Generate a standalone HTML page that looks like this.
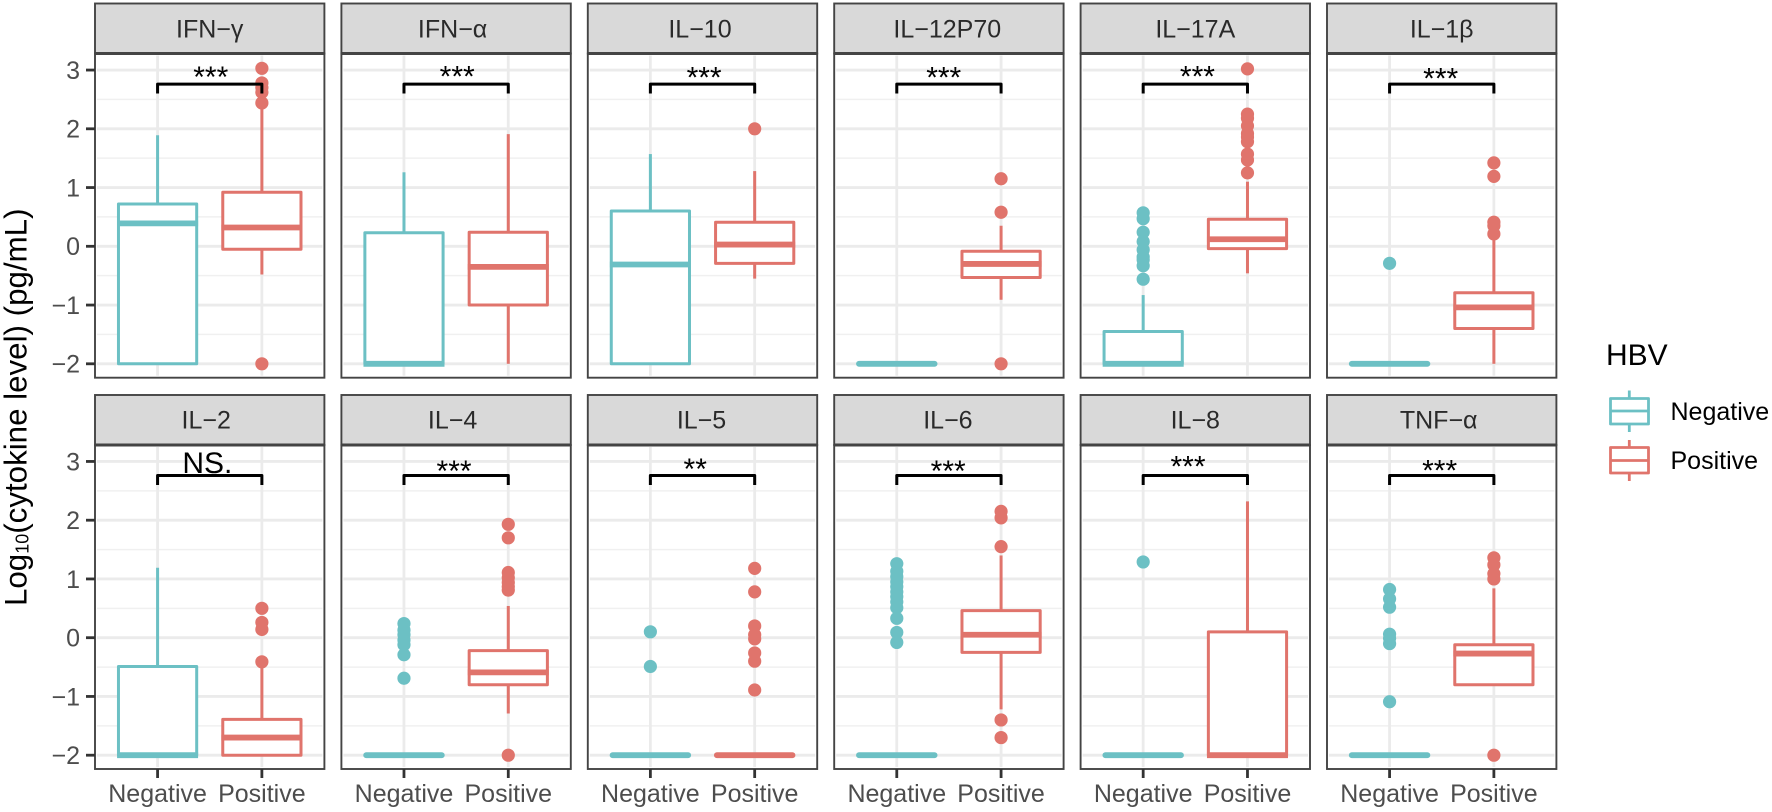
<!DOCTYPE html>
<html lang="en">
<head>
<meta charset="utf-8">
<title>Cytokine levels by HBV status</title>
<style>
html,body{margin:0;padding:0;background:#fff;width:1772px;height:812px;overflow:hidden}
svg{display:block}
text{font-family:"Liberation Sans",sans-serif}
</style>
</head>
<body>
<svg id="chart" xmlns="http://www.w3.org/2000/svg" width="1772" height="812" viewBox="0 0 1772 812">
<rect x="0" y="0" width="1772" height="812" fill="#ffffff"/>
<text transform="translate(26.5,606) rotate(-90)" font-size="31.3" fill="#000">Log<tspan font-size="18" dy="2">10</tspan><tspan dy="-2">(cytokine level) (pg/mL)</tspan></text>
<g>
<text x="1606" y="365" font-size="30" fill="#000">HBV</text>
<g fill="none" stroke="#6cc0c4" stroke-width="2.8" stroke-linejoin="round">
<line x1="1629.3" x2="1629.3" y1="390.5" y2="398.5"/>
<line x1="1629.3" x2="1629.3" y1="424" y2="432"/>
<rect x="1610.5" y="398.5" width="38" height="25.5"/>
<line x1="1610.5" x2="1648.5" y1="411" y2="411"/>
</g>
<text x="1670.5" y="420" font-size="25" fill="#000">Negative</text>
<g fill="none" stroke="#e0746c" stroke-width="2.8" stroke-linejoin="round">
<line x1="1629.3" x2="1629.3" y1="440" y2="447.5"/>
<line x1="1629.3" x2="1629.3" y1="473" y2="481"/>
<rect x="1610.5" y="447.5" width="38" height="25.5"/>
<line x1="1610.5" x2="1648.5" y1="460.5" y2="460.5"/>
</g>
<text x="1670.5" y="469" font-size="25" fill="#000">Positive</text>
</g>
</svg>
<script>
const panelNames = ["IFN−γ","IFN−α","IL−10","IL−12P70","IL−17A","IL−1β","IL−2","IL−4","IL−5","IL−6","IL−8","TNF−α"];
const categories = ["Negative","Positive"];
const yTickValues = [-2,-1,0,1,2,3];
const yTickLabels = ["−2","−1","0","1","2","3"];

const negWhiskerHigh = [1.89,1.26,1.57,-2,-0.83,-2,1.19,-2,-2,-2,-2,-2];
const negQ3          = [0.72,0.23,0.60,-2,-1.45,-2,-0.49,-2,-2,-2,-2,-2];
const negMedian      = [0.39,-2,-0.31,-2,-2,-2,-2,-2,-2,-2,-2,-2];
const negQ1          = [-2,-2,-2,-2,-2,-2,-2,-2,-2,-2,-2,-2];
const negWhiskerLow  = [-2,-2,-2,-2,-2,-2,-2,-2,-2,-2,-2,-2];
const negOutliers = [
  [],
  [],
  [],
  [],
  [0.57,0.47,0.24,0.08,-0.06,-0.18,-0.23,-0.33,-0.56],
  [-0.29],
  [],
  [0.24,0.13,0.05,-0.04,-0.12,-0.29,-0.69],
  [0.10,-0.49],
  [1.26,1.13,1.04,0.95,0.87,0.78,0.70,0.61,0.51,0.33,0.09,-0.08],
  [1.29],
  [0.82,0.66,0.52,0.06,-0.01,-0.10,-1.09]
];

const posWhiskerHigh = [2.35,1.91,1.28,0.35,1.10,0.15,-0.45,0.54,-2,1.40,2.32,0.84];
const posQ3          = [0.92,0.24,0.41,-0.085,0.46,-0.79,-1.39,-0.22,-2,0.46,0.10,-0.12];
const posMedian      = [0.32,-0.35,0.03,-0.30,0.12,-1.04,-1.70,-0.59,-2,0.05,-2,-0.27];
const posQ1          = [-0.05,-1.00,-0.29,-0.53,-0.04,-1.40,-2,-0.80,-2,-0.25,-2,-0.80];
const posWhiskerLow  = [-0.48,-2,-0.55,-0.91,-0.46,-2,-2,-1.29,-2,-1.22,-2,-0.80];
const posOutliers = [
  [3.03,2.78,2.70,2.62,2.44,-2],
  [],
  [2.00],
  [1.15,0.58,-2],
  [3.02,2.25,2.18,2.05,1.92,1.86,1.78,1.57,1.47,1.25],
  [1.42,1.19,0.41,0.35,0.21],
  [0.50,0.26,0.14,-0.41],
  [1.93,1.70,1.11,1.02,0.94,0.87,0.81,-2],
  [1.18,0.78,0.20,0.05,-0.02,-0.26,-0.40,-0.89],
  [2.15,2.04,1.55,-1.40,-1.70],
  [],
  [1.36,1.24,1.09,1.00,-2]
];

const sigLabels = ["***","***","***","***","***","***","NS.","***","**","***","***","***"];
const sigLabelCat = [1.51,1.51,1.515,1.45,1.52,1.49,1.477,1.48,1.43,1.493,1.43,1.48];
const sigLabelBase = [2.71,2.72,2.70,2.70,2.72,2.69,2.806,2.67,2.70,2.67,2.74,2.68];
const bracketTop = 2.76;
const bracketTip = 2.60;

const COLS = 6, PW = 229.4, PITCH = 246.4, LEFT = 95, UNIT = 104.3, YS = 58.75;
const ROW_ZERO = [246.3, 637.7], PANEL_TOP = [53.5, 445], PANEL_BOT = [377.7, 769], STRIP_TOP = [3.5, 395];
const STRIP_BASE = [37.5, 428.5];
const TEAL = "#6cc0c4", RED = "#e0746c", BORDER = "#444444", GRID = "#ebebeb";
const svg = document.getElementById("chart");
const NS = "http://www.w3.org/2000/svg";
function stripNudge(i){ return [0,-3.5,-2.5,-1.6,0,0,-3.5,-3.5,-1,-1,0,-3][i]; }

function mk(tag, parent, attrs){
  const el = document.createElementNS(NS, tag);
  for (const k in attrs) el.setAttribute(k, attrs[k]);
  parent.appendChild(el);
  return el;
}
function xScale(col, c){ return LEFT + PITCH*col + (c - 1 + 0.6)*UNIT; }
function yScale(row, v){ return ROW_ZERO[row] - v*YS; }

function drawBox(g, i, col, row, c, color, hi, q3, med, q1, lo, outs, prefix){
  const cx = xScale(col, c), hw = 0.375*UNIT;
  outs.forEach(function(v){
    const p = mk("circle", g, {cx:cx, cy:yScale(row,v), r:6.6, fill:color});
    
    
  });
  if (hi > q3){
    const w = mk("line", g, {x1:cx, x2:cx, y1:yScale(row,hi), y2:yScale(row,q3), stroke:color, "stroke-width":3});
    
    
  }
  if (lo < q1){
    const w = mk("line", g, {x1:cx, x2:cx, y1:yScale(row,q1), y2:yScale(row,lo), stroke:color, "stroke-width":3});
    
    
  }
  const flat = q3 === q1;
  if (!flat){
    const b = mk("rect", g, {x:cx-hw, y:yScale(row,q3), width:2*hw, height:yScale(row,q1)-yScale(row,q3), fill:"#fff", stroke:color, "stroke-width":3, "stroke-linejoin":"round"});
    
    
  }
  const ext = flat ? -1.3 : 1.4;
  const m = mk("line", g, {x1:cx-hw-ext, x2:cx+hw+ext, y1:yScale(row,med), y2:yScale(row,med), stroke:color, "stroke-width":5.8, "stroke-linecap":flat ? "round" : "butt"});
  
  
}

panelNames.forEach(function(name, i){
  const col = i % COLS, row = Math.floor(i / COLS);
  const L = LEFT + PITCH*col, R = L + PW, T = PANEL_TOP[row], B = PANEL_BOT[row];
  const slug = name.replace(/[^A-Za-z0-9]+/g, '-').toLowerCase();
  const g = mk("g", svg, {});
  
  

  yTickValues.forEach(function(v, k){
    if (k < yTickValues.length - 1){
      const mv = (v + yTickValues[k+1]) / 2;
      const gm = mk("line", g, {x1:L+2, x2:R-2, y1:yScale(row,mv), y2:yScale(row,mv), stroke:"#f0f0f0", "stroke-width":1.5});
      
      
    }
    const gl = mk("line", g, {x1:L+2, x2:R-2, y1:yScale(row,v), y2:yScale(row,v), stroke:GRID, "stroke-width":2.8});
    
    
  });
  categories.forEach(function(cat, k){
    const gv = mk("line", g, {x1:xScale(col,k+1), x2:xScale(col,k+1), y1:T+2, y2:B-2, stroke:GRID, "stroke-width":2.8});
    
    
  });

  drawBox(g, i, col, row, 1, TEAL, negWhiskerHigh[i], negQ3[i], negMedian[i], negQ1[i], negWhiskerLow[i], negOutliers[i], 'negative');
  drawBox(g, i, col, row, 2, RED, posWhiskerHigh[i], posQ3[i], posMedian[i], posQ1[i], posWhiskerLow[i], posOutliers[i], 'positive');

  const xa = xScale(col,1), xb = xScale(col,2), yt = yScale(row,bracketTop), yb = yScale(row,bracketTip);
  const br = mk("path", g, {d:"M"+xa+" "+yb+"V"+yt+"H"+xb+"V"+yb, fill:"none", stroke:"#000", "stroke-width":3, "stroke-linejoin":"round"});
  
  
  const sl = mk("text", g, {x:xScale(col,sigLabelCat[i]), y:yScale(row,sigLabelBase[i]), "text-anchor":"middle", "font-size":30, fill:"#000"});
  sl.textContent = sigLabels[i];
  
  

  const bd = mk("rect", g, {x:L, y:T, width:PW, height:B-T, fill:"none", stroke:BORDER, "stroke-width":1.9});
  
  

  const st = mk("rect", g, {x:L, y:STRIP_TOP[row], width:PW, height:T-STRIP_TOP[row], fill:"#d9d9d9", stroke:BORDER, "stroke-width":1.9});
  
  
  const sb = mk("line", g, {x1:L, x2:R, y1:T, y2:T, stroke:BORDER, "stroke-width":3});
  
  
  const tx = mk("text", g, {x:(L+R)/2 + stripNudge(i), y:STRIP_BASE[row], "text-anchor":"middle", "font-size":25, fill:"#2a2a2a"});
  tx.textContent = name;
  
  

  if (col === 0){
    yTickValues.forEach(function(v, k){
      const tk = mk("line", g, {x1:L-9, x2:L, y1:yScale(row,v), y2:yScale(row,v), stroke:"#333", "stroke-width":2.8});
      
      
      const lb = mk("text", g, {x:L-15, y:yScale(row,v)+8.8, "text-anchor":"end", "font-size":25, fill:"#4d4d4d"});
      lb.textContent = yTickLabels[k];
      
      
    });
  }
  if (row === 1){
    categories.forEach(function(cat, k){
      const cx = xScale(col,k+1);
      const tk = mk("line", g, {x1:cx, x2:cx, y1:B, y2:B+9, stroke:"#333", "stroke-width":2.8});
      
      
      const lb = mk("text", g, {x:cx, y:802, "text-anchor":"middle", "font-size":25, fill:"#4d4d4d"});
      lb.textContent = cat;
      
      
    });
  }
});
</script>
</body>
</html>
